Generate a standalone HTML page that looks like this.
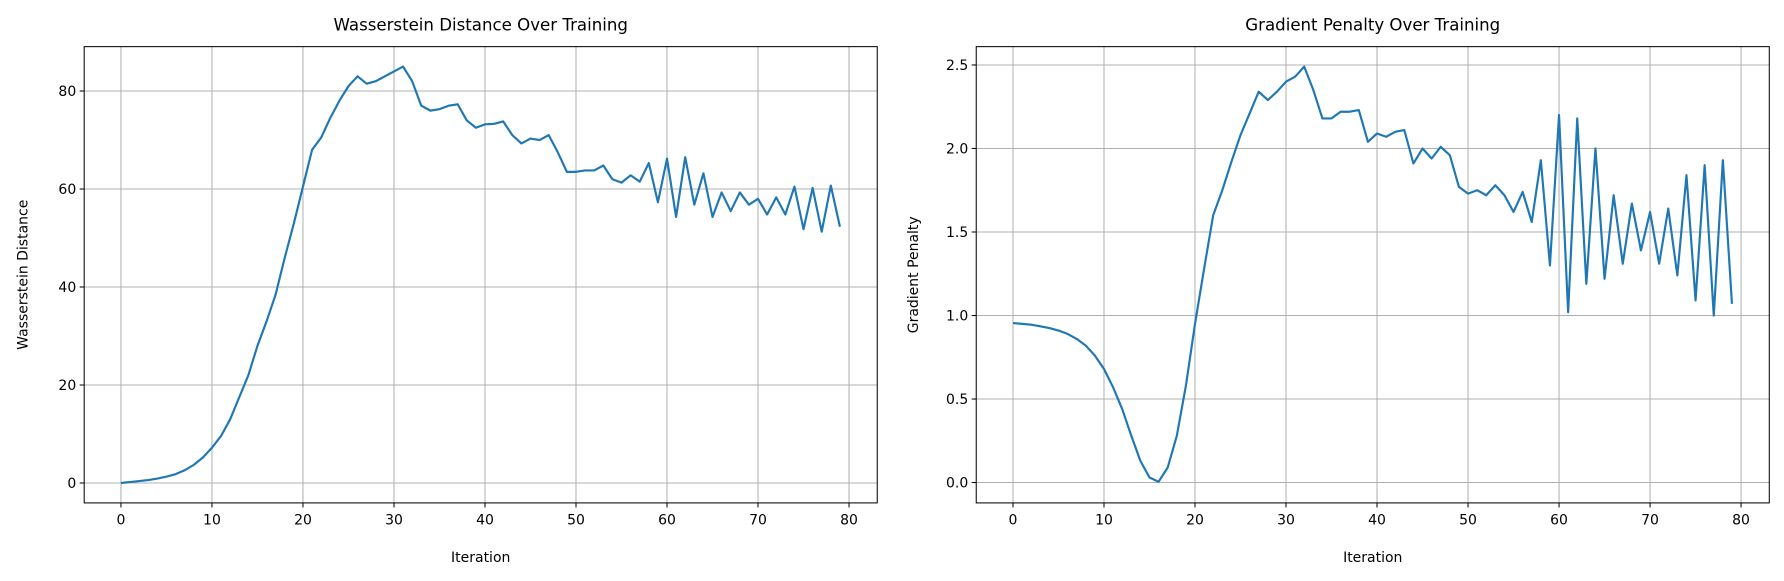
<!DOCTYPE html>
<html><head><meta charset="utf-8"><style>
body{margin:0;background:#fff;}
svg{display:block;font-family:"DejaVu Sans","Liberation Sans",sans-serif;}
</style></head><body>
<svg width="1784" height="581" viewBox="0 0 1784 581" xmlns="http://www.w3.org/2000/svg"><g id="chart" transform="scale(1.1378)"></g></svg>
<script>
const iterations = Array.from({length:80},(_, i)=>i);
const wassersteinValues = [0,0.2,0.4,0.6,0.9,1.3,1.8,2.6,3.7,5.2,7.2,9.6,13,17.5,22,28,33,38.5,46,53,60.5,68,70.5,74.5,78,81,83,81.5,82,83,84,85,82,77,76,76.3,77,77.3,74,72.5,73.2,73.3,73.8,71,69.3,70.3,70,71,67.5,63.5,63.5,63.8,63.8,64.8,62,61.3,62.8,61.5,65.3,57.3,66.2,54.3,66.5,56.8,63.2,54.3,59.3,55.5,59.3,56.8,58,54.8,58.3,54.8,60.5,51.8,60.2,51.3,60.7,52.3];
const penaltyValues = [0.955,0.95,0.945,0.935,0.925,0.91,0.89,0.86,0.82,0.76,0.68,0.57,0.44,0.28,0.13,0.03,0.005,0.09,0.28,0.58,0.95,1.28,1.6,1.75,1.92,2.08,2.21,2.34,2.29,2.34,2.4,2.43,2.49,2.35,2.18,2.18,2.22,2.22,2.23,2.04,2.09,2.07,2.1,2.11,1.91,2,1.94,2.01,1.96,1.77,1.73,1.75,1.72,1.78,1.72,1.62,1.74,1.56,1.93,1.3,2.2,1.02,2.18,1.19,2,1.22,1.72,1.31,1.67,1.39,1.62,1.31,1.64,1.24,1.84,1.09,1.9,1,1.93,1.07];
const xTicks = [0,10,20,30,40,50,60,70,80];
const wTicks = [0,20,40,60,80];
const pTicks = [0,0.5,1,1.5,2,2.5];

const NS="http://www.w3.org/2000/svg";
const svg=document.getElementById('chart');
function mk(tag,attrs,parent,text){const e=document.createElementNS(NS,tag);for(const k in attrs)e.setAttribute(k,attrs[k]);if(text!==undefined)e.textContent=text;(parent||svg).appendChild(e);return e;}

function panel(cfg){
  const g=mk('g',{});
  
  
  const xs=v=>cfg.x0+(v-0)*(cfg.x80-cfg.x0)/80;
  const ys=v=>cfg.yBase+(v-cfg.vBase)*(cfg.yTop-cfg.yBase)/(cfg.vTop-cfg.vBase);
  xTicks.forEach(t=>{
    const l=mk('line',{x1:xs(t),x2:xs(t),y1:cfg.top,y2:cfg.bottom,stroke:'#b0b0b0','stroke-width':0.9},g);
    
    
    mk('line',{x1:xs(t),x2:xs(t),y1:cfg.bottom,y2:cfg.bottom+4,stroke:'#000','stroke-width':0.9},g);
    const tx=mk('text',{x:xs(t),y:cfg.bottom+19,'text-anchor':'middle','font-size':12.3,fill:'#000'},g,String(t));
    
    
  });
  cfg.yTicks.forEach(t=>{
    const l=mk('line',{x1:cfg.left,x2:cfg.right,y1:ys(t),y2:ys(t),stroke:'#b0b0b0','stroke-width':0.9},g);
    
    
    mk('line',{x1:cfg.left-4,x2:cfg.left,y1:ys(t),y2:ys(t),stroke:'#000','stroke-width':0.9},g);
    const tx=mk('text',{x:cfg.left-7,y:ys(t)+4.5,'text-anchor':'end','font-size':12.3,fill:'#000'},g,cfg.fmt(t));
    
    
  });
  const pts=iterations.map((it,i)=>xs(it).toFixed(2)+','+ys(cfg.values[i]).toFixed(2)).join(' ');
  const line=mk('polyline',{points:pts,fill:'none',stroke:'#1f77b4','stroke-width':1.9,'stroke-linejoin':'round'},g);
  
  
  const frame=mk('rect',{x:cfg.left,y:cfg.top,width:cfg.right-cfg.left,height:cfg.bottom-cfg.top,fill:'none',stroke:'#000','stroke-width':0.9},g);
  
  
  const title=mk('text',{x:(cfg.left+cfg.right)/2,y:27,'text-anchor':'middle','font-size':14.6,fill:'#000'},g,cfg.title);
  
  
  const xl=mk('text',{x:(cfg.left+cfg.right)/2,y:494,'text-anchor':'middle','font-size':12.3,fill:'#000'},g,'Iteration');
  
  
  const yl=mk('text',{x:cfg.ylx,y:(cfg.top+cfg.bottom)/2,'text-anchor':'middle','font-size':12.3,fill:'#000',transform:`rotate(-90 ${cfg.ylx} ${(cfg.top+cfg.bottom)/2})`},g,cfg.ylabel);
  
  
}
panel({name:'wasserstein-chart',left:74,right:771,top:41,bottom:442,x0:106.3,x80:746.2,yBase:424.5,vBase:0,yTop:80,vTop:80,yTicks:wTicks,fmt:t=>String(t),values:wassersteinValues,title:'Wasserstein Distance Over Training',ylabel:'Wasserstein Distance',ylx:24});
panel({name:'gradient-penalty-chart',left:858,right:1555,top:41,bottom:442,x0:890.3,x80:1530.2,yBase:424.1,vBase:0,yTop:57.1,vTop:2.5,yTicks:pTicks,fmt:t=>t.toFixed(1),values:penaltyValues,title:'Gradient Penalty Over Training',ylabel:'Gradient Penalty',ylx:807});
</script>
</body></html>
